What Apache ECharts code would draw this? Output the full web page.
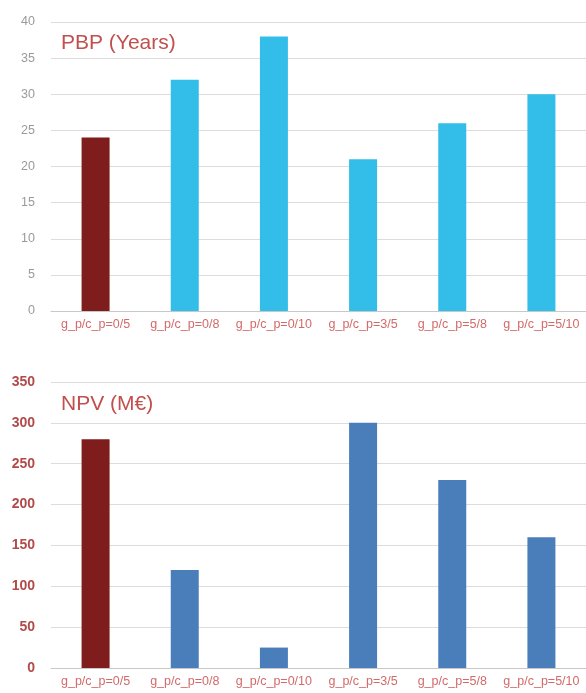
<!DOCTYPE html>
<html>
<head>
<meta charset="utf-8">
<script src="https://cdn.jsdelivr.net/npm/echarts@6/dist/echarts.min.js"></script>
<style>
  html, body { margin: 0; padding: 0; background: #ffffff; }
  #chart { width: 586px; height: 693px; }
</style>
</head>
<body>
<div id="chart"></div>
<script>
// Scenario categories shared by both panels
const categories = ['g_p/c_p=0/5', 'g_p/c_p=0/8', 'g_p/c_p=0/10', 'g_p/c_p=3/5', 'g_p/c_p=5/8', 'g_p/c_p=5/10'];

// Payback period per scenario (years)
const pbpValues = [24, 32, 38, 21, 26, 30];
const pbpTicks = { min: 0, max: 40, interval: 5 };

// Net present value per scenario (M€)
const npvValues = [280, 120, 25, 300, 230, 160];
const npvTicks = { min: 0, max: 350, interval: 50 };

// The reference scenario is highlighted in dark red
const baseColor = '#7f1d1d';
const pbpColor = '#33bde9';
const npvColor = '#4a7ebb';

function colored(values, other) {
  return values.map((v, i) => ({ value: v, itemStyle: { color: i === 0 ? baseColor : other } }));
}

const catAxis = (gridIndex) => ({
  type: 'category',
  gridIndex,
  data: categories,
  axisTick: { show: false },
  axisLine: { lineStyle: { color: '#c8c8c8', width: 1 } },
  axisLabel: { color: '#d36a6a', fontSize: 12.5, fontFamily: 'Arial, Liberation Sans', margin: 7, interval: 0 }
});

const chart = echarts.init(document.getElementById('chart'), null, { renderer: 'canvas' });
chart.setOption({
  animation: false,
  backgroundColor: '#ffffff',
  title: [
    { text: 'PBP (Years)', left: 56, top: 28, textStyle: { color: '#c0504d', fontSize: 21, fontWeight: 'normal', fontFamily: 'Arial, Liberation Sans' } },
    { text: 'NPV (M€)', left: 56, top: 389, textStyle: { color: '#c0504d', fontSize: 21, fontWeight: 'normal', fontFamily: 'Arial, Liberation Sans' } }
  ],
  grid: [
    { left: 51, right: 0, top: 22, height: 289 },
    { left: 51, right: 0, top: 382, height: 286 }
  ],
  xAxis: [catAxis(0), catAxis(1)],
  yAxis: [
    {
      type: 'value', gridIndex: 0, min: pbpTicks.min, max: pbpTicks.max, interval: pbpTicks.interval,
      axisLine: { show: false }, axisTick: { show: false },
      splitLine: { lineStyle: { color: '#dcdcdc', width: 1 } },
      axisLabel: { color: '#9a9a9a', fontSize: 12.5, fontFamily: 'Arial, Liberation Sans', margin: 16 }
    },
    {
      type: 'value', gridIndex: 1, min: npvTicks.min, max: npvTicks.max, interval: npvTicks.interval,
      axisLine: { show: false }, axisTick: { show: false },
      splitLine: { lineStyle: { color: '#dcdcdc', width: 1 } },
      axisLabel: { color: '#b24a4a', fontSize: 14, fontWeight: 'bold', fontFamily: 'Arial, Liberation Sans', margin: 16 }
    }
  ],
  series: [
    { type: 'bar', xAxisIndex: 0, yAxisIndex: 0, barWidth: 28, data: colored(pbpValues, pbpColor) },
    { type: 'bar', xAxisIndex: 1, yAxisIndex: 1, barWidth: 28, data: colored(npvValues, npvColor) }
  ]
});
</script>
</body>
</html>
